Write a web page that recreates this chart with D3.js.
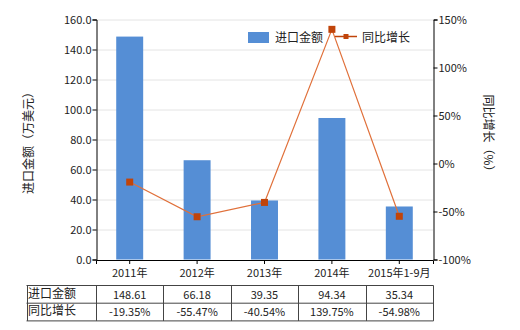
<!DOCTYPE html>
<html>
<head>
<meta charset="utf-8">
<script src="https://cdn.jsdelivr.net/npm/d3@7"></script>
<style>
  body { margin: 0; background: #fff; }
  svg text { font-family: "Noto Sans CJK SC", "DejaVu Sans", sans-serif; font-size: 11px; fill: #222; }
</style>
</head>
<body>
<svg id="chart" width="520" height="330"></svg>
<script>
// dados
const categorias = ["2011年", "2012年", "2013年", "2014年", "2015年1-9月"];
const valoresImportacao = [148.61, 66.18, 39.35, 94.34, 35.34];
const crescimento = [-19.35, -55.47, -40.54, 139.75, -54.98];
const ticksEsquerda = [0, 20, 40, 60, 80, 100, 120, 140, 160];
const ticksDireita = [-100, -50, 0, 50, 100, 150];
const nomesSeries = ["进口金额", "同比增长"];

const svg = d3.select("#chart");

const margem = { left: 96, right: 433, top: 19.5, bottom: 259.5 };

const x = d3.scaleBand().domain(categorias).range([margem.left, margem.right]);
const yEsq = d3.scaleLinear().domain([0, 160]).range([margem.bottom, margem.top]);
const yDir = d3.scaleLinear().domain([-100, 150]).range([margem.bottom, margem.top]);

const corBarra = "#558ed5";
const corLinha = "#e0703a";
const corMarcador = "#c0440a";

// grade
svg.append("g")
  .selectAll("line")
  .data(ticksEsquerda.slice(1))
  .join("line")
    .attr("x1", margem.left).attr("x2", margem.right)
    .attr("y1", d => yEsq(d) + 0.5).attr("y2", d => yEsq(d) + 0.5)
    .attr("stroke", "#e4e4e4");

// barras
svg.append("g")
  .selectAll("rect")
  .data(valoresImportacao)
  .join("rect")
    .attr("x", (d, i) => x(categorias[i]) + x.bandwidth() * 0.3)
    .attr("width", x.bandwidth() * 0.4)
    .attr("y", d => yEsq(d))
    .attr("height", d => yEsq(0) - yEsq(d))
    .attr("fill", corBarra);

// eixo esquerdo
const eixoEsq = svg.append("g")
  .attr("transform", `translate(${margem.left + 0.5},0)`)
  .call(d3.axisLeft(yEsq).tickValues(ticksEsquerda).tickFormat(d3.format(".1f")).tickSizeOuter(0).tickSize(4));
eixoEsq.select(".domain").attr("stroke", "#000");
eixoEsq.selectAll("text").attr("x", -5);

// eixo direito
const eixoDir = svg.append("g")
  .attr("transform", `translate(${margem.right + 0.5},0)`)
  .call(d3.axisRight(yDir).tickValues(ticksDireita).tickFormat(d => d + "%").tickSizeOuter(0).tickSize(4));
eixoDir.select(".domain").attr("stroke", "#000");
eixoDir.selectAll("text").attr("x", 5);

// eixo inferior
const eixoX = svg.append("g")
  .attr("transform", `translate(0,${margem.bottom + 0.5})`)
  .call(d3.axisBottom(x).tickSizeOuter(0).tickSize(4));
eixoX.select(".domain").attr("stroke", "#000");
eixoX.selectAll("text").attr("y", 9);

svg.selectAll(".tick text").style("font-family", "\"Noto Sans CJK SC\", sans-serif").style("font-size", "11px").attr("fill", "#222");

// linha de crescimento
const linha = d3.line()
  .x((d, i) => x(categorias[i]) + x.bandwidth() / 2)
  .y(d => yDir(d));

svg.append("path")
  .datum(crescimento)
  .attr("d", linha)
  .attr("fill", "none")
  .attr("stroke", corLinha)
  .attr("stroke-width", 1.2);

svg.append("g")
  .selectAll("rect")
  .data(crescimento)
  .join("rect")
    .attr("x", (d, i) => x(categorias[i]) + x.bandwidth() / 2 - 3.5)
    .attr("y", d => yDir(d) - 3.5)
    .attr("width", 7).attr("height", 7)
    .attr("fill", corMarcador);

// titulos dos eixos
svg.append("text")
  .attr("transform", "translate(33,140) rotate(-90)")
  .attr("text-anchor", "middle")
  .style("font-size", "12px")
  .text("进口金额（万美元）");

svg.append("text")
  .attr("transform", "translate(484,136) rotate(90)")
  .attr("text-anchor", "middle")
  .style("font-size", "12px")
  .text("同比增长（%）");

// legenda
const legenda = svg.append("g");
legenda.append("rect").attr("x", 248).attr("y", 32).attr("width", 21).attr("height", 11).attr("fill", corBarra);
legenda.append("text").attr("x", 275).attr("y", 41.5).style("font-size", "12px").text(nomesSeries[0]);
legenda.append("line").attr("x1", 335).attr("x2", 357).attr("y1", 36.5).attr("y2", 36.5).attr("stroke", corMarcador).attr("stroke-width", 1.5);
legenda.append("rect").attr("x", 343.5).attr("y", 34).attr("width", 5).attr("height", 5).attr("fill", corMarcador);
legenda.append("text").attr("x", 362).attr("y", 41.5).style("font-size", "12px").text(nomesSeries[1]);

// tabela de dados
const tabela = svg.append("g");
const topoTabela = 285.5, alturaLinha = 17.7;
const bordas = [26.5].concat(categorias.map(c => x(c))).concat([margem.right]);
const linhasTabela = [
  { nome: nomesSeries[0], valores: valoresImportacao.map(v => v.toFixed(2)) },
  { nome: nomesSeries[1], valores: crescimento.map(v => v.toFixed(2) + "%") }
];

[0, 1, 2].forEach(i => {
  tabela.append("line")
    .attr("x1", 26.5).attr("x2", margem.right + 0.5)
    .attr("y1", topoTabela + i * alturaLinha).attr("y2", topoTabela + i * alturaLinha)
    .attr("stroke", "#444");
});
bordas.forEach(b => {
  tabela.append("line")
    .attr("x1", Math.round(b) + 0.5).attr("x2", Math.round(b) + 0.5)
    .attr("y1", topoTabela).attr("y2", topoTabela + 2 * alturaLinha)
    .attr("stroke", "#444");
});
linhasTabela.forEach((linhaT, r) => {
  const yTexto = topoTabela + r * alturaLinha + 13;
  tabela.append("text").attr("x", 28).attr("y", yTexto - 1).style("font-size", "12px").text(linhaT.nome);
  tabela.selectAll(null)
    .data(linhaT.valores)
    .join("text")
      .attr("x", (d, i) => x(categorias[i]) + x.bandwidth() / 2)
      .attr("y", yTexto)
      .attr("text-anchor", "middle")
      .text(d => d);
});
</script>
</body>
</html>
